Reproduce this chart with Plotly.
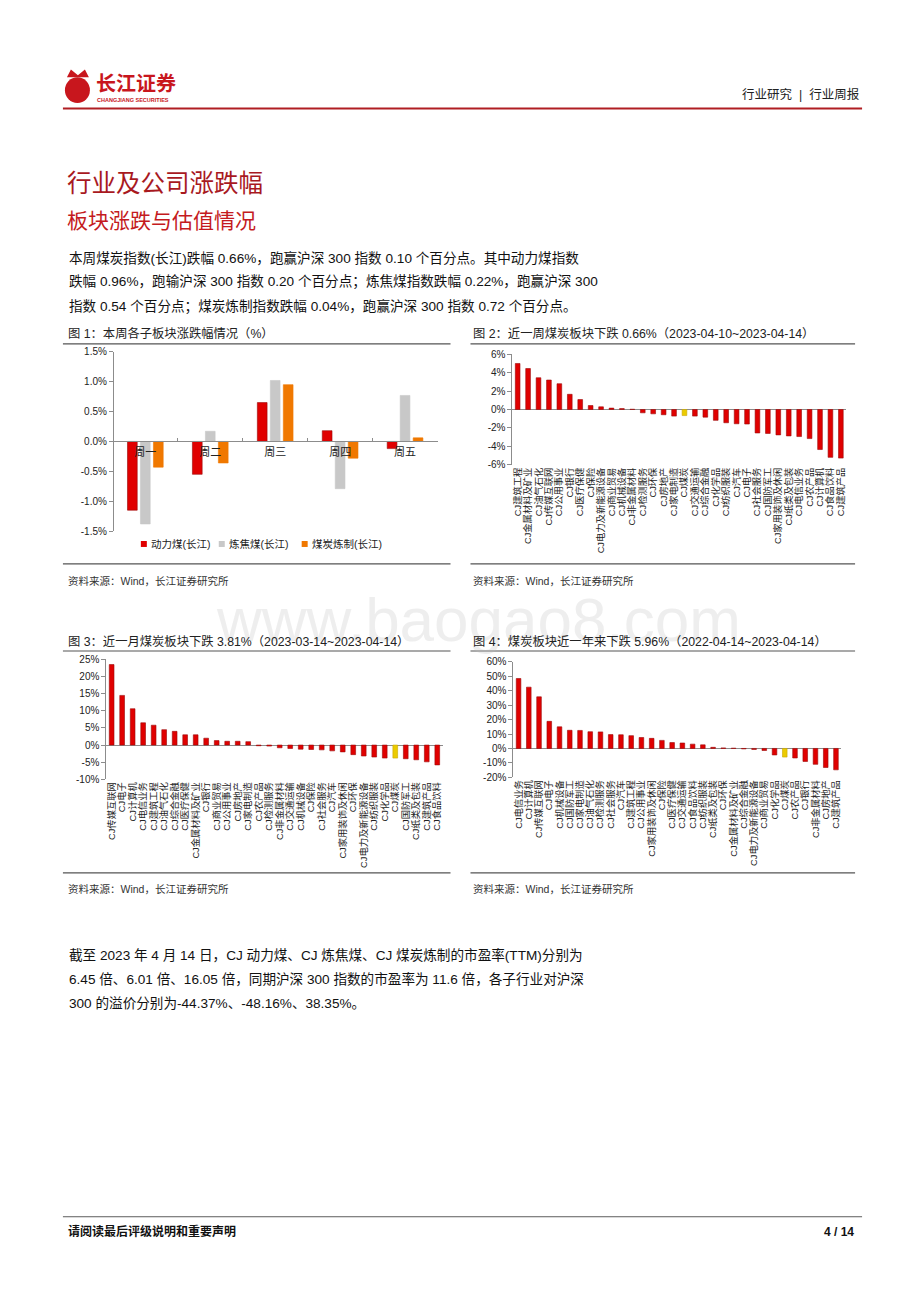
import plotly.graph_objects as go

W, H = 920, 1302


def px(x):
    return x / W


def py(y):
    return 1 - y / H


FONT = "Liberation Sans, Arial, Noto Sans CJK SC, sans-serif"
RED = "#E00000"
RED_EDGE = "#9B0A0A"
GRAY = "#C8C8C8"
ORANGE = "#F07800"
YELLOW = "#EBCB00"
AXIS = "#8C8C8C"

# ---------------- data ----------------
# Figure 1: daily change of sub sectors (%)
days = ["周一", "周二", "周三", "周四", "周五"]
series1_names = ["动力煤(长江)", "炼焦煤(长江)", "煤炭炼制(长江)"]
thermal_coal = [-1.15, -0.55, 0.65, 0.18, -0.12]
coking_coal = [-1.38, 0.17, 1.02, -0.79, 0.77]
coal_refining = [-0.43, -0.36, 0.95, -0.28, 0.06]
ticks1 = [-1.5, -1.0, -0.5, 0.0, 0.5, 1.0, 1.5]
ticktext1 = [f"{v:.1f}%" for v in ticks1]

# Figure 2: last week
cats2 = ["CJ建筑工程", "CJ金属材料及矿业", "CJ油气石化", "CJ传媒互联网", "CJ公用事业",
         "CJ银行", "CJ医疗保健", "CJ保险", "CJ电力及新能源设备", "CJ商业贸易",
         "CJ机械设备", "CJ非金属材料", "CJ检测服务", "CJ环保", "CJ房地产",
         "CJ家电制造", "CJ煤炭", "CJ交通运输", "CJ综合金融", "CJ化学品",
         "CJ纺织服装", "CJ汽车", "CJ电子", "CJ社会服务", "CJ国防军工",
         "CJ家用装饰及休闲", "CJ纸类及包装", "CJ电信业务", "CJ农产品", "CJ计算机",
         "CJ食品饮料", "CJ建筑产品"]
vals2 = [5.0, 4.45, 3.45, 3.2, 2.8, 1.65, 1.08, 0.43, 0.29, 0.15, 0.1, 0.03,
         -0.36, -0.47, -0.57, -0.72, -0.66, -0.72, -0.83, -1.18, -1.44, -1.55,
         -1.58, -2.55, -2.6, -2.76, -2.87, -2.94, -3.16, -4.35, -5.2, -5.28]
ticks2 = [-6, -4, -2, 0, 2, 4, 6]
ticktext2 = [f"{v}%" for v in ticks2]

# Figure 3: last month
cats3 = ["CJ传媒互联网", "CJ电子", "CJ计算机", "CJ电信业务", "CJ建筑工程",
         "CJ油气石化", "CJ综合金融", "CJ医疗保健", "CJ金属材料及矿业", "CJ银行",
         "CJ商业贸易", "CJ公用事业", "CJ房地产", "CJ家电制造", "CJ农产品",
         "CJ检测服务", "CJ非金属材料", "CJ交通运输", "CJ机械设备", "CJ保险",
         "CJ社会服务", "CJ汽车", "CJ家用装饰及休闲", "CJ环保", "CJ电力及新能源设备",
         "CJ纺织服装", "CJ化学品", "CJ煤炭", "CJ国防军工", "CJ纸类及包装",
         "CJ建筑产品", "CJ食品饮料"]
vals3 = [23.5, 14.5, 10.6, 6.5, 5.8, 4.5, 4.0, 3.0, 3.0, 2.0, 1.3, 1.1, 1.1, 1.0,
         -0.2, -0.3, -0.8, -1.0, -1.2, -1.3, -1.4, -1.7, -2.0, -2.8, -3.2,
         -3.5, -3.8, -3.81, -4.0, -4.3, -4.9, -5.8]
ticks3 = [-10, -5, 0, 5, 10, 15, 20, 25]
ticktext3 = [f"{v}%" for v in ticks3]

# Figure 4: last year
cats4 = ["CJ电信业务", "CJ计算机", "CJ传媒互联网", "CJ电子", "CJ机械设备",
         "CJ国防军工", "CJ家电制造", "CJ油气石化", "CJ检测服务", "CJ社会服务",
         "CJ汽车", "CJ建筑工程", "CJ公用事业", "CJ家用装饰及休闲", "CJ保险",
         "CJ医疗保健", "CJ交通运输", "CJ食品饮料", "CJ纺织服装", "CJ纸类及包装",
         "CJ环保", "CJ金属材料及矿业", "CJ综合金融", "CJ电力及新能源设备", "CJ商业贸易",
         "CJ化学品", "CJ煤炭", "CJ农产品", "CJ银行", "CJ非金属材料",
         "CJ房地产", "CJ建筑产品"]
vals4 = [48.5, 42.5, 35.8, 18.8, 15.0, 12.6, 12.5, 11.6, 11.5, 9.6, 9.5, 8.9,
         7.6, 7.0, 5.6, 4.1, 3.8, 3.0, 2.5, 0.8, 0.4, 0.2, -0.3, -0.7, -1.4,
         -4.5, -5.96, -6.6, -9.0, -11.0, -13.2, -14.8]
ticks4 = [-20, -10, 0, 10, 20, 30, 40, 50, 60]
ticktext4 = [f"{v}%" for v in ticks4]

HIGHLIGHT = "CJ煤炭"

fig = go.Figure()

# ---------------- Figure 1 ----------------
series1 = [thermal_coal, coking_coal, coal_refining]
colors1 = [RED, GRAY, ORANGE]
for name, vals, col in zip(series1_names, series1, colors1):
    line_col = RED_EDGE if col == RED else col
    fig.add_trace(go.Bar(x=days, y=vals, name=name, xaxis="x", yaxis="y", showlegend=False,
                         marker=dict(color=col, line=dict(color=line_col, width=0.6))))


def colors_for(cats):
    return [YELLOW if c == HIGHLIGHT else RED for c in cats]


def edges_for(cats):
    return ["#C9A800" if c == HIGHLIGHT else RED_EDGE for c in cats]


for idx, (cats, vals) in enumerate([(cats2, vals2), (cats3, vals3), (cats4, vals4)], start=2):
    fig.add_trace(go.Bar(x=cats, y=vals, xaxis=f"x{idx}", yaxis=f"y{idx}", showlegend=False,
                         width=0.45,
                         marker=dict(color=colors_for(cats),
                                     line=dict(color=edges_for(cats), width=0.6))))

tickfont = dict(family=FONT, size=10, color="#222")
catfont = dict(family=FONT, size=9.3, color="#222")


def yax(dom, rng, tv, tt, anchor, xpos=None):
    d = dict(domain=dom, range=rng, tickvals=tv, ticktext=tt, showline=True, linecolor=AXIS,
             linewidth=1, ticks="outside", ticklen=4, tickcolor=AXIS, showgrid=False,
             tickfont=tickfont, fixedrange=True)
    if xpos is None:
        d.update(anchor=anchor, zeroline=True, zerolinecolor=AXIS, zerolinewidth=1)
    else:
        d.update(anchor="free", position=xpos, zeroline=False)
    return d


def xcat(dom, cats, anchor):
    return dict(domain=dom, anchor=anchor, type="category", range=[-0.5, len(cats) - 0.5],
                tickmode="array", tickvals=cats, ticktext=cats,
                showline=False, ticks="", tickangle=-90, tickfont=catfont, showgrid=False,
                zeroline=False, fixedrange=True)


layout = dict(
    width=W, height=H, margin=dict(l=0, r=0, t=0, b=0),
    paper_bgcolor="white", plot_bgcolor="rgba(0,0,0,0)",
    font=dict(family=FONT, color="#222"),
    barmode="group", bargap=0.4, bargroupgap=0.25,
    xaxis=dict(domain=[px(112), px(437)], anchor="free", position=py(439.5), type="category",
               range=[-0.5, 4.5], showline=True, linecolor=AXIS, linewidth=1, ticks="inside",
               tickson="boundaries", ticklen=3, tickcolor=AXIS, showgrid=False,
               tickfont=dict(family=FONT, size=11, color="#222"), fixedrange=True),
    yaxis=yax([py(530), py(349)], [-1.5, 1.5], ticks1, ticktext1, None, xpos=px(112)),
    xaxis2=xcat([px(512), px(846)], cats2, "y2"),
    yaxis2=yax([py(463), py(351.5)], [-6, 6], ticks2, ticktext2, "x2"),
    xaxis3=xcat([px(105.5), px(442)], cats3, "y3"),
    yaxis3=yax([py(780.5), py(659.5)], [-10, 25], ticks3, ticktext3, "x3"),
    xaxis4=xcat([px(513), px(841)], cats4, "y4"),
    yaxis4=yax([py(778.5), py(662)], [-20, 60], ticks4, ticktext4, "x4"),
    showlegend=False,
)
fig.update_layout(**layout)

# ---------------- page decorations ----------------
shapes = []


def hline(x0, x1, y, color, width):
    shapes.append(dict(type="line", xref="paper", yref="paper", x0=px(x0), x1=px(x1),
                       y0=py(y), y1=py(y), line=dict(color=color, width=width)))


hline(62, 862, 103.5, "#B01E23", 2)
for y in (341, 563, 651, 875):
    hline(62, 450, y, "#555", 1.2)
    hline(470, 855, y, "#555", 1.2)
hline(62, 862, 1222, "#333", 0.8)

# logo mark
shapes.append(dict(type="circle", xref="paper", yref="paper", x0=px(64), x1=px(89),
                   y0=py(98), y1=py(72), fillcolor="#C8161D", line=dict(width=0)))
shapes.append(dict(type="path", xref="paper", yref="paper",
                   path=f"M {px(66)},{py(72)} L {px(70)},{py(64)} L {px(77)},{py(70)} L {px(84)},{py(64)} L {px(88)},{py(72)} Z",
                   fillcolor="#C8161D", line=dict(width=0)))

ann = []


def text(x, y, s, size=12, color="#222", xanchor="left", bold=False, family=FONT):
    if bold:
        s = f"<b>{s}</b>"
    ann.append(dict(x=px(x), y=py(y), xref="paper", yref="paper", text=s, showarrow=False,
                    xanchor=xanchor, yanchor="middle",
                    font=dict(family=family, size=size, color=color)))


# legend of figure 1 (small squares + labels)
legend_x = [140, 218, 301]
for lx, name, col in zip(legend_x, series1_names, colors1):
    shapes.append(dict(type="rect", xref="paper", yref="paper", x0=px(lx), x1=px(lx + 6),
                       y0=py(546), y1=py(540), fillcolor=col, line=dict(width=0)))
    text(lx + 8, 543, name, 10.5, "#222")

fig.update_layout(shapes=shapes)

# watermark
ann.append(dict(x=px(478), y=py(619), xref="paper", yref="paper", text="www.baogao8.com",
                showarrow=False, xanchor="center", yanchor="middle",
                font=dict(family=FONT, size=62, color="rgba(190,190,190,0.26)")))

text(93, 77, "长江证券", 20, "#C8161D", bold=True, family="Noto Sans CJK SC")
text(94, 95, "CHANGJIANG SECURITIES", 5.5, "#C8161D", bold=True)
text(862, 89, "行业研究  |  行业周报", 12.5, "#222", xanchor="right")

text(64, 179, "行业及公司涨跌幅", 24.5, "#A8191F")
text(64, 217, "板块涨跌与估值情况", 21, "#C41A20")

para1 = ["本周煤炭指数(长江)跌幅 0.66%，跑赢沪深 300 指数 0.10 个百分点。其中动力煤指数",
         "跌幅 0.96%，跑输沪深 300 指数 0.20 个百分点；炼焦煤指数跌幅 0.22%，跑赢沪深 300",
         "指数 0.54 个百分点；煤炭炼制指数跌幅 0.04%，跑赢沪深 300 指数 0.72 个百分点。"]
for i, line in enumerate(para1):
    text(66, 254 + i * 24.5, line, 13.6, "#111")

text(65, 331, "图 1：本周各子板块涨跌幅情况（%）", 12.3, "#222")
text(471, 331, "图 2：近一周煤炭板块下跌 0.66%（2023-04-10~2023-04-14）", 12.3, "#222")
text(65, 641, "图 3：近一月煤炭板块下跌 3.81%（2023-03-14~2023-04-14）", 12.3, "#222")
text(471, 641, "图 4：煤炭板块近一年来下跌 5.96%（2022-04-14~2023-04-14）", 12.3, "#222")

for x in (65, 471):
    text(x, 580, "资料来源：Wind，长江证券研究所", 10.5, "#333")
    text(x, 891, "资料来源：Wind，长江证券研究所", 10.5, "#333")

para2 = ["截至 2023 年 4 月 14 日，CJ 动力煤、CJ 炼焦煤、CJ 煤炭炼制的市盈率(TTM)分别为",
         "6.45 倍、6.01 倍、16.05 倍，同期沪深 300 指数的市盈率为 11.6 倍，各子行业对沪深",
         "300 的溢价分别为-44.37%、-48.16%、38.35%。"]
for i, line in enumerate(para2):
    text(66, 958 + i * 24.5, line, 13.6, "#111")

text(65, 1237, "请阅读最后评级说明和重要声明", 12, "#111", bold=True)
text(856, 1237, "4 / 14", 12, "#111", xanchor="right", bold=True)

fig.update_layout(annotations=ann)

fig.write_html("out.html", config={"displayModeBar": False},
               post_script="document.body.style.margin='0';document.body.style.overflow='hidden';")
